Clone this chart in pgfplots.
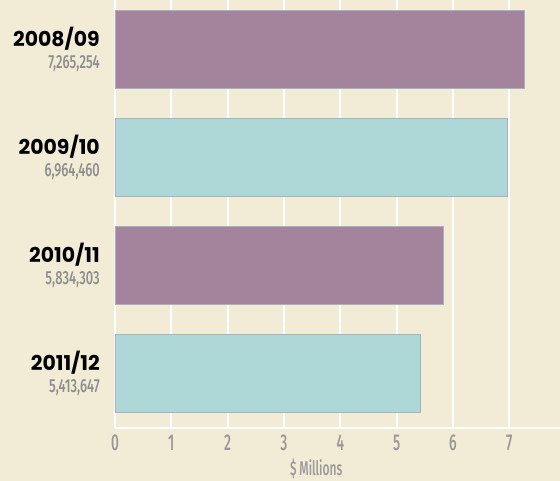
\documentclass[border=0pt]{standalone}
\usepackage{pgfplots}
\pgfplotsset{compat=1.18}
\usepackage{fontspec}
\setmainfont{Fira Sans}
\newfontfamily\yearfont{Poppins}
\newfontfamily\condfont{Fira Sans Medium}[FakeStretch=0.6]
\newfontfamily\numfont{Fira Sans Medium}[FakeStretch=0.68]
\definecolor{bg}{HTML}{F2ECD6}
\definecolor{purp}{HTML}{A3849C}
\definecolor{cyn}{HTML}{AED7D7}
\definecolor{edge}{HTML}{A8B2BC}
\definecolor{numgray}{HTML}{8E8E8E}
\definecolor{tickgray}{HTML}{9A9A9A}
\newcommand{\lab}[2]{{\yearfont\bfseries #1}\\{\numfont\fontsize{19}{19}\selectfont\color{numgray}#2}}
\begin{document}
\begin{tikzpicture}
\fill[bg] (-115bp,-53bp) rectangle (445bp,428bp);
\begin{axis}[
  at={(0,0)}, anchor=south west,
  scale only axis, width=445bp, height=428bp,
  xmin=0, xmax=7.9, ymin=-0.505, ymax=3.458,
  xbar, bar width=78bp, bar shift=0pt,
  axis line style={draw=none},
  tick style={draw=none},
  major tick length=0pt,
  xmajorgrids, grid style={white, line width=2bp},
  xtick={0,1,2,3,4,5,6,7},
  ytick={0,1,2,3},
  yticklabels={{\lab{2011/12}{5,413,647}},{\lab{2010/11}{5,834,303}},{\lab{2009/10}{6,964,460}},{\lab{2008/09}{7,265,254}}},
  yticklabel style={font=\fontsize{20.5}{22}\selectfont, align=right, inner sep=0pt, xshift=-15bp, yshift=0bp},
  xticklabel style={font=\condfont\fontsize{23}{23}\selectfont, text=tickgray, inner sep=0pt, yshift=-7bp},
  /pgf/number format/assume math mode=true,
  xlabel={\$ Millions},
  xlabel style={font=\condfont\fontsize{20}{20}\selectfont, text=tickgray, at={(axis description cs:0.452,0)}, anchor=north, inner sep=0pt, yshift=-31bp},
  clip=false,
]
\addplot[fill=purp, draw=edge, line width=0.8bp] coordinates {(7.265254,3) (5.834303,1)};
\addplot[fill=cyn, draw=edge, line width=0.8bp] coordinates {(6.964460,2) (5.413647,0)};
\draw[white, line width=2.5bp] (axis cs:0,-0.505) -- (axis cs:7.9,-0.505);
\end{axis}
\pgfresetboundingbox
\path[use as bounding box] (-115bp,-53bp) rectangle (445bp,428bp);
\end{tikzpicture}
\end{document}
